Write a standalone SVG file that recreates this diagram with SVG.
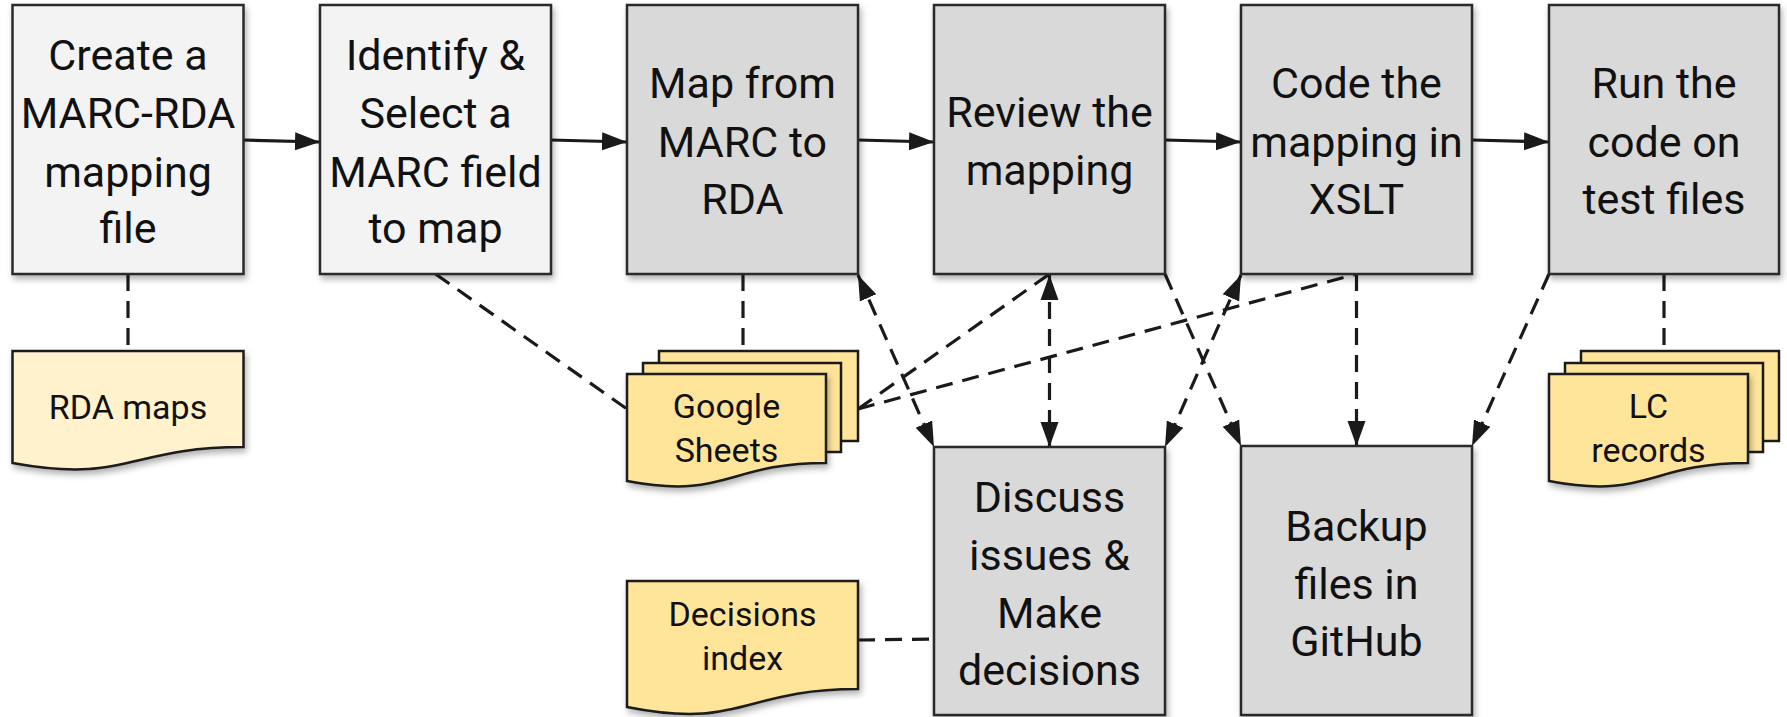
<svg xmlns="http://www.w3.org/2000/svg" width="1787" height="717" viewBox="0 0 1787 717">
<style>
.box{stroke:#2b2b2b;stroke-width:2.5}
.light{fill:#f3f3f3}
.dark{fill:#d9d9d9}
.doc{fill:#ffe599;stroke:#1a1a1a;stroke-width:2.5}
.doc2{fill:#fff2cc;stroke:#1a1a1a;stroke-width:2.5}
.t{font-family:Roboto,"Liberation Sans",sans-serif;font-size:43px;fill:#111;text-anchor:middle}
.s{font-family:Roboto,"Liberation Sans",sans-serif;font-size:34px;fill:#111;text-anchor:middle}
.c{stroke:#1a1a1a;stroke-width:3.2;fill:none}
.d{stroke-dasharray:17 10}
</style>
<defs>
<filter id="sh" x="-10%" y="-10%" width="125%" height="125%">
<feDropShadow dx="2" dy="4" stdDeviation="3" flood-color="#000" flood-opacity="0.3"/>
</filter>
<marker id="ah" markerUnits="userSpaceOnUse" markerWidth="26" markerHeight="20" viewBox="0 0 26 20" refX="25" refY="10" orient="auto-start-reverse">
<path d="M0,1 L25,10 L0,19 z" fill="#1a1a1a"/>
</marker>
</defs>

<g id="connectors">
<line class="c" x1="243.5" y1="140" x2="320" y2="142" marker-end="url(#ah)"/>
<line class="c" x1="551" y1="140" x2="627" y2="142" marker-end="url(#ah)"/>
<line class="c" x1="858" y1="140" x2="934" y2="142" marker-end="url(#ah)"/>
<line class="c" x1="1165" y1="140" x2="1241" y2="142" marker-end="url(#ah)"/>
<line class="c" x1="1472" y1="140" x2="1549" y2="142" marker-end="url(#ah)"/>
<line class="c d" x1="128" y1="274" x2="128" y2="351"/>
<line class="c d" x1="435.5" y1="274" x2="627" y2="409"/>
<line class="c d" x1="743" y1="274" x2="743" y2="351"/>
<line class="c d" x1="858" y1="409" x2="1049.5" y2="274"/>
<line class="c d" x1="858" y1="409" x2="1356.5" y2="274"/>
<line class="c d" x1="858" y1="275" x2="934" y2="447" marker-start="url(#ah)" marker-end="url(#ah)"/>
<line class="c d" x1="1049.5" y1="275" x2="1049.5" y2="447" marker-start="url(#ah)" marker-end="url(#ah)"/>
<line class="c d" x1="1241" y1="275" x2="1165" y2="447" marker-start="url(#ah)" marker-end="url(#ah)"/>
<line class="c d" x1="1165" y1="274" x2="1241" y2="446" marker-end="url(#ah)"/>
<line class="c d" x1="1356.5" y1="274" x2="1356.5" y2="446" marker-end="url(#ah)"/>
<line class="c d" x1="1549" y1="274" x2="1472" y2="446" marker-end="url(#ah)"/>
<line class="c d" x1="1664" y1="274" x2="1664" y2="351"/>
<line class="c d" x1="858" y1="640" x2="934" y2="639"/>
</g>

<g id="create">
<rect class="box light" x="12.5" y="5" width="231" height="269" filter="url(#sh)"/>
<text class="t" x="128" y="70">Create a</text>
<text class="t" x="128" y="128">MARC-RDA</text>
<text class="t" x="128" y="187">mapping</text>
<text class="t" x="128" y="243">file</text>
</g>
<g id="identify">
<rect class="box light" x="320" y="5" width="231" height="269" filter="url(#sh)"/>
<text class="t" x="435.5" y="70">Identify &amp;</text>
<text class="t" x="435.5" y="128">Select a</text>
<text class="t" x="435.5" y="187">MARC field</text>
<text class="t" x="435.5" y="243">to map</text>
</g>
<g id="mapfrom">
<rect class="box dark" x="627" y="5" width="231" height="269" filter="url(#sh)"/>
<text class="t" x="742.5" y="98">Map from</text>
<text class="t" x="742.5" y="157">MARC to</text>
<text class="t" x="742.5" y="214">RDA</text>
</g>
<g id="review">
<rect class="box dark" x="934" y="5" width="231" height="269" filter="url(#sh)"/>
<text class="t" x="1049.5" y="127">Review the</text>
<text class="t" x="1049.5" y="185">mapping</text>
</g>
<g id="code">
<rect class="box dark" x="1241" y="5" width="231" height="269" filter="url(#sh)"/>
<text class="t" x="1356.5" y="98">Code the</text>
<text class="t" x="1356.5" y="157">mapping in</text>
<text class="t" x="1356.5" y="214">XSLT</text>
</g>
<g id="run">
<rect class="box dark" x="1549" y="5" width="230" height="269" filter="url(#sh)"/>
<text class="t" x="1664" y="98">Run the</text>
<text class="t" x="1664" y="157">code on</text>
<text class="t" x="1664" y="214">test files</text>
</g>
<g id="discuss">
<rect class="box dark" x="934" y="447" width="231" height="268" filter="url(#sh)"/>
<text class="t" x="1049.5" y="512">Discuss</text>
<text class="t" x="1049.5" y="570">issues &amp;</text>
<text class="t" x="1049.5" y="628">Make</text>
<text class="t" x="1049.5" y="685">decisions</text>
</g>
<g id="backup">
<rect class="box dark" x="1241" y="446" width="231" height="269" filter="url(#sh)"/>
<text class="t" x="1356.5" y="541">Backup</text>
<text class="t" x="1356.5" y="599">files in</text>
<text class="t" x="1356.5" y="656">GitHub</text>
</g>

<g id="rdamaps">
<path class="doc2" filter="url(#sh)" d="M12.5,351 H243.5 V447 C128,447 128,484 12.5,463 Z"/>
<text class="s" x="128" y="419">RDA maps</text>
</g>
<g id="googlesheets">
<rect class="doc" x="659" y="351" width="199" height="90"/>
<rect class="doc" x="643" y="363" width="198" height="89"/>
<path class="doc" filter="url(#sh)" d="M627,374 H826 V463 C726.5,463 726.5,500 627,481 Z"/>
<text class="s" x="726.5" y="418">Google</text>
<text class="s" x="726.5" y="462">Sheets</text>
</g>
<g id="lcrecords">
<rect class="doc" x="1581" y="351" width="198" height="90"/>
<rect class="doc" x="1565" y="363" width="198" height="89"/>
<path class="doc" filter="url(#sh)" d="M1549,374 H1748 V463 C1648.5,463 1648.5,500 1549,481 Z"/>
<text class="s" x="1648.5" y="418">LC</text>
<text class="s" x="1648.5" y="462">records</text>
</g>
<g id="decisions">
<path class="doc" filter="url(#sh)" d="M627,581 H858 V689 C742.5,689 742.5,730 627,707 Z"/>
<text class="s" x="742.5" y="626">Decisions</text>
<text class="s" x="742.5" y="670">index</text>
</g>
</svg>
